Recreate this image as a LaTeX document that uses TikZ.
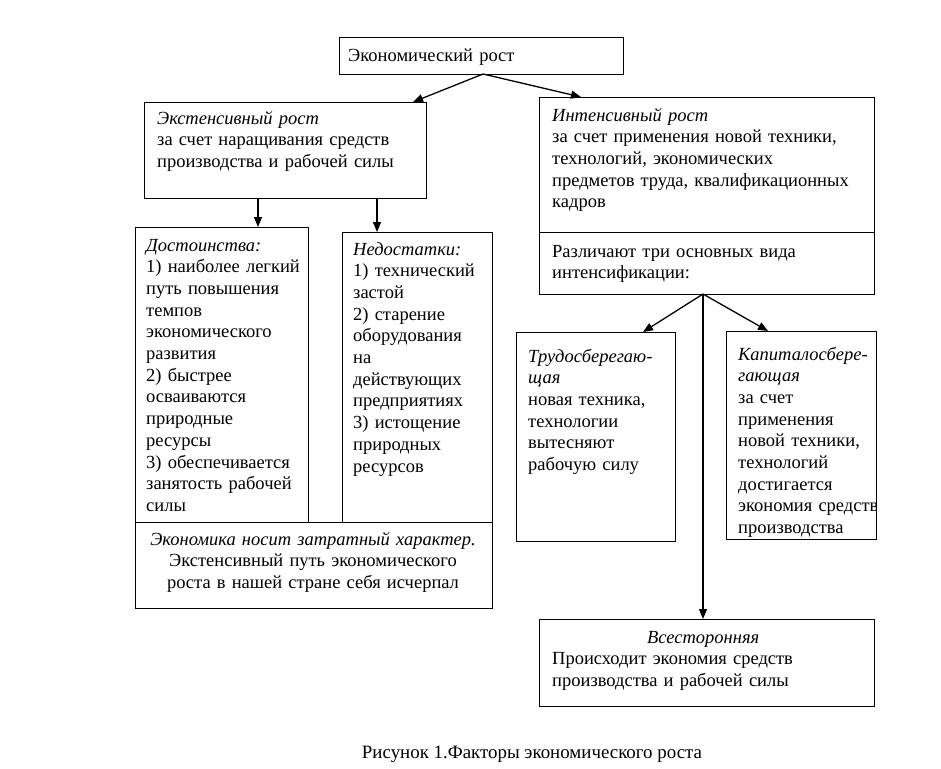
\documentclass[tikz,border=0pt]{standalone}
\usepackage{fontspec}
\setmainfont{Liberation Serif}
\usetikzlibrary{arrows.meta,calc}
\tikzset{
  box/.style={draw=black, line width=0.9pt, anchor=north west, inner sep=0pt, outer sep=0pt},
  txt/.style={inner sep=0pt, anchor=base west, align=left, text width=#1,
    font=\fontsize{18.5}{21.7}\selectfont},
  ctxt/.style={inner sep=0pt, anchor=base, align=center, text width=#1,
    font=\fontsize{18.5}{21.7}\selectfont},
  arr/.style={line width=1.3pt, -{Triangle[length=10pt,width=8pt]}},
}
\begin{document}
\begin{tikzpicture}[x=1pt,y=-1pt]
\useasboundingbox (0,0) rectangle (941,768);
% boxes
\node[box, minimum width=284, minimum height=37] (top) at (339,37) {};
\node[box, minimum width=282, minimum height=96] (ext) at (144,102) {};
\node[box, minimum width=335, minimum height=197] (int) at (539,97) {};
\node[box, minimum width=173, minimum height=295] (dost) at (135,227) {};
\node[box, minimum width=150, minimum height=290] (nedo) at (342,232) {};
\node[box, minimum width=357, minimum height=86] (bot) at (135,522) {};
\node[box, minimum width=159, minimum height=209] (trudo) at (516,332) {};
\node[box, minimum width=150, minimum height=208] (kap) at (726,331) {};
\node[box, minimum width=335, minimum height=87] (vse) at (539,619) {};
\draw[line width=0.9pt] (int.west |- 0,232) -- (int.east |- 0,232);
% texts
\node[txt=270] (ttop) at (348,62) {Экономический рост};
\node[txt=270] (text) at (157,124) {\textit{Экстенсивный рост}\\за счет наращивания средств\\производства и рабочей силы};
\node[txt=320] (tint) at (552,121) {\textit{Интенсивный рост}\\за счет применения новой техники,\\технологий, экономических\\предметов труда, квалификационных\\кадров};
\node[txt=320] (tint2) at (552,257) {Различают три основных вида\\интенсификации:};
\node[txt=160] (tdost) at (146,251) {\textit{Достоинства:}\\1) наиболее легкий\\путь повышения\\темпов\\экономического\\развития\\2) быстрее\\осваиваются\\природные\\ресурсы\\3) обеспечивается\\занятость рабочей\\силы};
\node[txt=138] (tnedo) at (353,255) {\textit{Недостатки:}\\1) технический\\застой\\2) старение\\оборудования\\на\\действующих\\предприятиях\\3) истощение\\природных\\ресурсов};
\node[ctxt=355] (tbot) at (313,545) {\textit{Экономика носит затратный характер.}\\Экстенсивный путь экономического\\роста в нашей стране себя исчерпал};
\node[txt=145] (ttrudo) at (528,362) {\textit{Трудосберегаю-}\\\textit{щая}\\новая техника,\\технологии\\вытесняют\\рабочую силу};
\begin{scope}
\clip (kap.north west) rectangle (kap.south east);
\node[txt=200] (tkap) at (738,360) {\textit{Капиталосбере-}\\\textit{гающая}\\за счет\\применения\\новой техники,\\технологий\\достигается\\экономия средств\\производства};
\end{scope}
\node[txt=302] (tvse) at (552,643) {\makebox[\linewidth]{\textit{Всесторонняя}}\\Происходит экономия средств\\производства и рабочей силы};
\node[inner sep=0pt, anchor=base, font=\fontsize{18.9}{22}\selectfont] (cap) at (532,758) {Рисунок 1.Факторы экономического роста};
% arrows
\coordinate (s1) at ($(top.south west)+(144,0)$);
\draw[arr] (s1) -- ($(ext.north west)+(269,0)$);
\draw[arr] (s1) -- ($(int.north west)+(42,0)$);
\draw[arr] ($(ext.south west)+(114,0)$) -- ($(dost.north west)+(123,0)$);
\draw[arr] ($(ext.south west)+(233,0)$) -- ($(nedo.north west)+(35,0)$);
\coordinate (s2) at ($(int.south west)+(164,0)$);
\draw[arr] (s2) -- ($(trudo.north west)+(127,0)$);
\draw[arr] (s2) -- ($(kap.north west)+(42,0)$);
\draw[arr] (s2) -- ($(vse.north west)+(164,0)$);
\end{tikzpicture}
\end{document}
